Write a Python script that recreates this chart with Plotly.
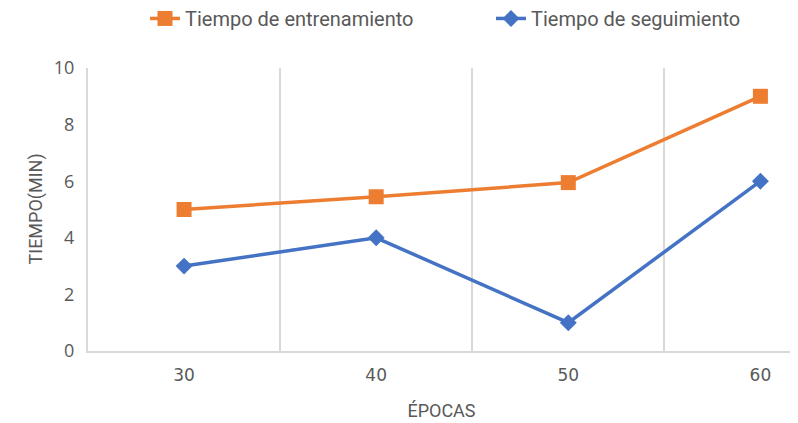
import plotly.graph_objects as go

epocas = ["30", "40", "50", "60"]
entrenamiento = [5.0, 5.45, 5.95, 9.0]
seguimiento = [3.0, 4.0, 1.0, 6.0]
y_ticks = [0, 2, 4, 6, 8, 10]

FONT = "Roboto, sans-serif"
GRAY = "#595959"

fig = go.Figure()
fig.add_trace(go.Scatter(
    x=epocas, y=entrenamiento, name="Tiempo de entrenamiento",
    mode="lines+markers", legend="legend",
    line=dict(color="#ED7D31", width=3.5),
    marker=dict(symbol="square", size=15, color="#ED7D31"),
))
fig.add_trace(go.Scatter(
    x=epocas, y=seguimiento, name="Tiempo de seguimiento",
    mode="lines+markers", legend="legend2",
    line=dict(color="#4472C4", width=3.5),
    marker=dict(symbol="diamond", size=13, color="#4472C4"),
))

leg_common = dict(orientation="h", yref="paper", y=1.244, yanchor="top",
                  xref="container", xanchor="left",
                  font=dict(size=20, color=GRAY, family=FONT))

fig.update_layout(
    width=798, height=423,
    margin=dict(l=80, r=11, t=60, b=80, autoexpand=False),
    paper_bgcolor="white", plot_bgcolor="white",
    font=dict(family=FONT, size=17, color=GRAY),
    showlegend=True,
    legend=dict(x=137 / 798, **leg_common),
    legend2=dict(x=483 / 798, **leg_common),
)
fig.add_annotation(
    text="TIEMPO(MIN)", textangle=-90, showarrow=False,
    xref="paper", yref="paper", x=-53 / 707, y=0.5,
    xanchor="center", yanchor="middle",
    font=dict(size=18, color=GRAY, family=FONT),
)
fig.update_xaxes(
    type="category", range=[-0.5, 3.18], automargin=False,
    tickson="boundaries", showgrid=True, gridcolor="#D9D9D9", gridwidth=1.5,
    showline=True, linecolor="#D9D9D9", linewidth=2,
    ticks="", ticklen=0, ticklabelstandoff=8,
    tickfont=dict(size=17, color=GRAY, family="DejaVu Sans"),
    title=dict(text="ÉPOCAS", font=dict(size=18, color=GRAY), standoff=20),
)
fig.update_yaxes(
    range=[0, 10], tickvals=y_ticks, showgrid=False, automargin=False,
    showline=True, linecolor="#D9D9D9", linewidth=2,
    ticks="", zeroline=False, ticklabelstandoff=8,
    tickfont=dict(size=18, color=GRAY, family="Open Sans"),
)

fig.write_html("out.html")
